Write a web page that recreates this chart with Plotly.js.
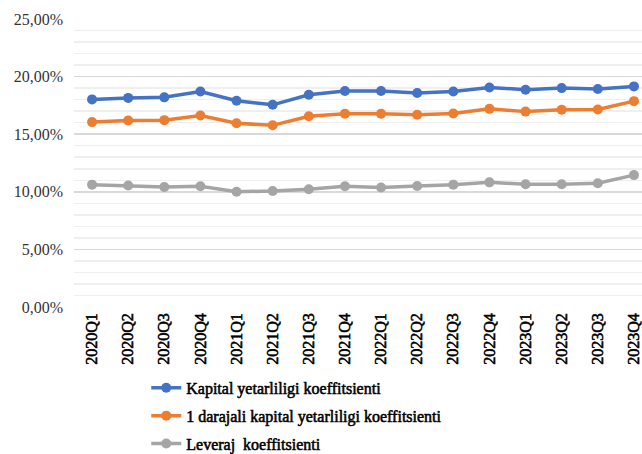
<!DOCTYPE html>
<html>
<head>
<meta charset="utf-8">
<script src="https://cdn.plot.ly/plotly-3.0.1.min.js"></script>
<style>
html,body{margin:0;padding:0;width:642px;height:454px;overflow:hidden;background:#fff;}
#chart{width:660px;height:500px;}
/* bold face of the serif font is not installed: thicken regular glyphs instead */
#chart .xtick text, #chart .legendtext{stroke:#000;stroke-width:0.55px;paint-order:fill;}
</style>
</head>
<body>
<div id="chart"></div>
<script>
const categories = ["2020Q1","2020Q2","2020Q3","2020Q4","2021Q1","2021Q2","2021Q3","2021Q4",
  "2022Q1","2022Q2","2022Q3","2022Q4","2023Q1","2023Q2","2023Q3","2023Q4"];
const kapital = [18.02,18.15,18.2,18.7,17.9,17.55,18.42,18.75,18.75,18.57,18.7,19.06,18.86,19.0,18.92,19.15];
const tier1 = [16.05,16.19,16.22,16.62,15.95,15.77,16.56,16.77,16.77,16.69,16.8,17.2,16.96,17.12,17.14,17.87];
const leverage = [10.62,10.54,10.42,10.48,10.0,10.07,10.22,10.48,10.38,10.5,10.62,10.82,10.66,10.66,10.74,11.45];
const seriesNames = ["Kapital yetarliligi koeffitsienti","1 darajali kapital yetarliligi koeffitsienti","Leveraj  koeffitsienti"];
const colors = ["#4472C4","#ED7D31","#A5A5A5"];
const series = [kapital, tier1, leverage];

const SERIF = "Liberation Serif";

const traces = series.map((vals, i) => ({
  x: categories,
  y: vals,
  name: seriesNames[i],
  type: "scatter",
  mode: "lines+markers",
  legendgroup: "g" + i,
  line: {color: colors[i], width: 3.5},
  marker: {color: colors[i], size: 10}
}));

const layout = {
  width: 660,
  height: 500,
  margin: {l: 74, r: 8, t: 19, b: 193},
  paper_bgcolor: "#fff",
  plot_bgcolor: "#fff",
  separators: ",.",
  font: {family: SERIF, color: "#000", size: 16},
  showlegend: true,
  legend: {
    orientation: "v",
    x: 0.125, xanchor: "left",
    y: -0.222, yanchor: "top",
    traceorder: "grouped",
    tracegroupgap: 4,
    font: {family: SERIF, size: 16, color: "#000"},
    itemwidth: 30
  },
  xaxis: {
    type: "category",
    range: [-0.5, 15.5],
    tickangle: -90,
    tickfont: {family: SERIF, size: 16, color: "#000"},
    showgrid: false,
    zeroline: false,
    showline: false,
    ticks: "",
    ticklabelstandoff: 2
  },
  yaxis: {
    range: [0, 25],
    dtick: 5,
    tickformat: ".2f",
    ticksuffix: "%",
    tickfont: {family: SERIF, size: 16, color: "#333"},
    gridcolor: "#d9d9d9",
    gridwidth: 1.5,
    zeroline: false,
    showline: false,
    ticks: "",
    ticklabelstandoff: 10,
    minor: {dtick: 1, showgrid: true, gridcolor: "#efefef", gridwidth: 1.5}
  }
};

Plotly.newPlot("chart", traces, layout, {displayModeBar: false, staticPlot: true});
</script>
</body>
</html>
